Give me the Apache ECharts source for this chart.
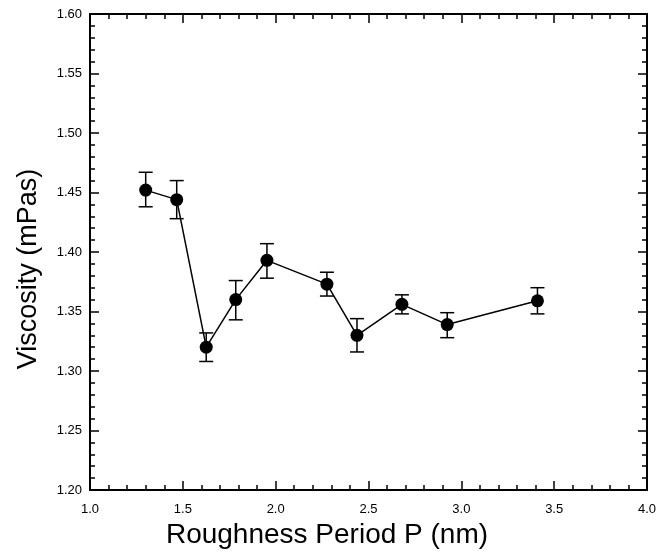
<!DOCTYPE html>
<html>
<head>
<meta charset="utf-8">
<title>Viscosity vs roughness period</title>
<script src="https://cdn.jsdelivr.net/npm/echarts@6/dist/echarts.min.js"></script>
<style>
  html, body { margin: 0; padding: 0; background: #fff; }
  #chart { width: 668px; height: 556px; }
</style>
</head>
<body>
<div id="chart"></div>
<script>
// data
var period = [1.30, 1.467, 1.626, 1.785, 1.953, 2.276, 2.438, 2.680, 2.924, 3.41];
var viscosity = [1.452, 1.444, 1.320, 1.360, 1.393, 1.373, 1.330, 1.356, 1.339, 1.359];
var errHigh = [1.467, 1.460, 1.332, 1.376, 1.407, 1.383, 1.344, 1.364, 1.349, 1.370];
var errLow = [1.438, 1.428, 1.308, 1.343, 1.378, 1.363, 1.316, 1.348, 1.328, 1.348];

var xTitle = 'Roughness Period P (nm)';
var yTitle = 'Viscosity (mPas)';

var font = 'Liberation Sans, Arial, Helvetica, sans-serif';

var points = [];
var bars = [];
for (var i = 0; i < period.length; i++) {
    points.push([period[i], viscosity[i]]);
    bars.push([period[i], errLow[i], errHigh[i]]);
}

// shared axis look: black frame, ticks pointing inward
function axisStyle(extra) {
    var a = {
        type: 'value',
        axisLine: { show: true, onZero: false, lineStyle: { color: '#000', width: 2 } },
        axisTick: { show: true, inside: true, length: 9, lineStyle: { color: '#000', width: 1.5 } },
        minorTick: { show: true, splitNumber: 5, length: 5, lineStyle: { color: '#000', width: 1.5 } },
        splitLine: { show: false },
        minorSplitLine: { show: false }
    };
    for (var k in extra) a[k] = extra[k];
    return a;
}

var chart = echarts.init(document.getElementById('chart'));
chart.setOption({
    animation: false,
    backgroundColor: '#fff',
    grid: { left: 90, right: 21, top: 14, bottom: 66 },
    xAxis: [
        axisStyle({
            min: 1, max: 4, interval: 0.5, position: 'bottom',
            axisLabel: { margin: 13, fontFamily: font, fontSize: 13, color: '#000',
                formatter: function (v) { return v.toFixed(1); } }
        }),
        axisStyle({
            min: 1, max: 4, interval: 0.5, position: 'top',
            axisLabel: { show: false }
        })
    ],
    yAxis: [
        axisStyle({
            min: 1.2, max: 1.6, interval: 0.05, position: 'left',
            axisLabel: { margin: 8, fontFamily: font, fontSize: 13, color: '#000',
                formatter: function (v) { return v.toFixed(2); } }
        }),
        axisStyle({
            min: 1.2, max: 1.6, interval: 0.05, position: 'right',
            axisLabel: { show: false }
        })
    ],
    // axis titles sit a bit off-centre in the original, so place them by hand
    graphic: [
        {
            type: 'text', x: 327, y: 535,
            style: { text: xTitle, font: '28px ' + font, fill: '#000',
                textAlign: 'center', textVerticalAlign: 'middle' }
        },
        {
            type: 'text', x: 29, y: 269, rotation: Math.PI / 2,
            style: { text: yTitle, font: '27px ' + font, fill: '#000',
                textAlign: 'center', textVerticalAlign: 'middle' }
        }
    ],
    series: [
        {
            type: 'custom',
            xAxisIndex: 0, yAxisIndex: 0,
            data: bars,
            renderItem: function (params, api) {
                var x = api.value(0);
                var lo = api.coord([x, api.value(1)]);
                var hi = api.coord([x, api.value(2)]);
                var w = 7;
                var st = { stroke: '#000', lineWidth: 1.5 };
                return {
                    type: 'group',
                    children: [
                        { type: 'line', shape: { x1: lo[0], y1: lo[1], x2: hi[0], y2: hi[1] }, style: st },
                        { type: 'line', shape: { x1: hi[0] - w, y1: hi[1], x2: hi[0] + w, y2: hi[1] }, style: st },
                        { type: 'line', shape: { x1: lo[0] - w, y1: lo[1], x2: lo[0] + w, y2: lo[1] }, style: st }
                    ]
                };
            },
            z: 2
        },
        {
            type: 'line',
            xAxisIndex: 0, yAxisIndex: 0,
            data: points,
            symbol: 'circle',
            symbolSize: 13,
            itemStyle: { color: '#000' },
            lineStyle: { color: '#000', width: 1.5 },
            z: 3
        }
    ]
});
</script>
</body>
</html>
